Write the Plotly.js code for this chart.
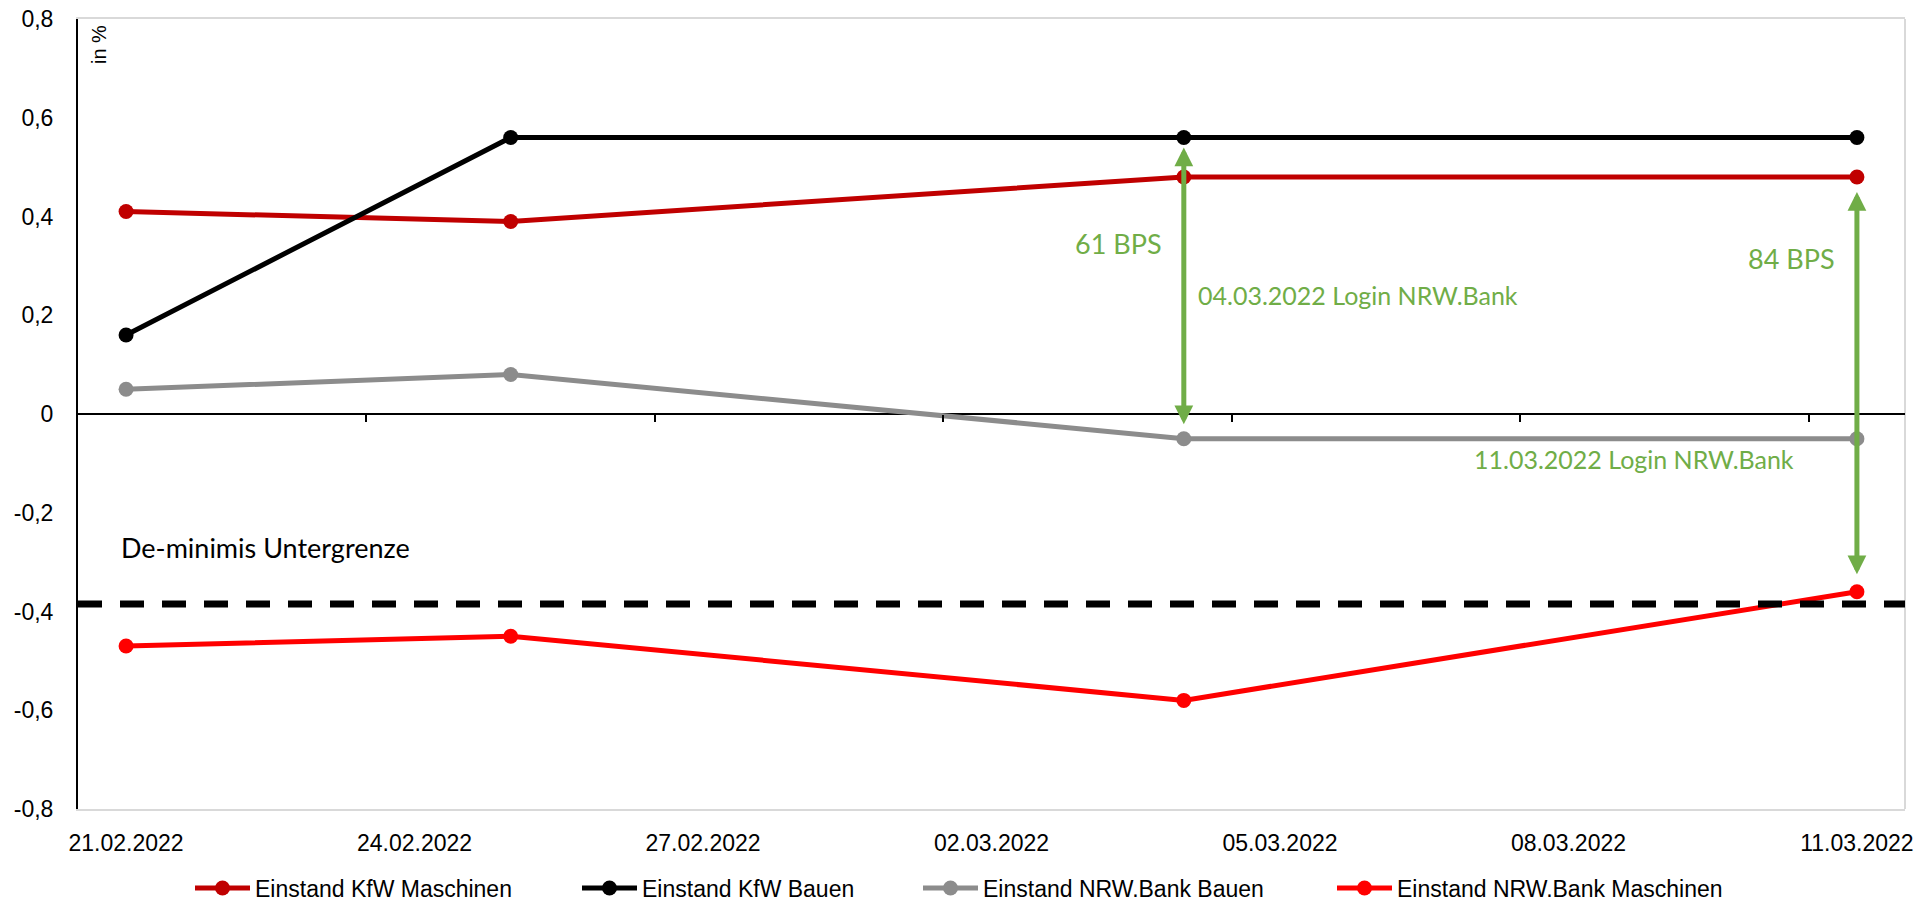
<!DOCTYPE html>
<html>
<head>
<meta charset="utf-8">
<script src="https://cdn.plot.ly/plotly-3.0.1.min.js"></script>
<style>
html,body{margin:0;padding:0;background:#fff;}
#chart{width:1924px;height:902px;}
</style>
</head>
<body>
<div id="chart"></div>
<script>
// ---- data ----
const dates = ['2022-02-21', '2022-02-25', '2022-03-04', '2022-03-11'];
const kfwMaschinen = [0.41, 0.39, 0.48, 0.48];
const kfwBauen = [0.16, 0.56, 0.56, 0.56];
const nrwBauen = [0.05, 0.08, -0.05, -0.05];
const nrwMaschinen = [-0.47, -0.45, -0.58, -0.36];
const deMinimis = -0.385;

const seriesNames = ['Einstand KfW Maschinen', 'Einstand KfW Bauen', 'Einstand NRW.Bank Bauen', 'Einstand NRW.Bank Maschinen'];

const xTickDates = ['2022-02-21', '2022-02-24', '2022-02-27', '2022-03-02', '2022-03-05', '2022-03-08', '2022-03-11'];
const xTickLabels = ['21.02.2022', '24.02.2022', '27.02.2022', '02.03.2022', '05.03.2022', '08.03.2022', '11.03.2022'];
const dayBoundaryTicks = ['2022-02-23 12:00', '2022-02-26 12:00', '2022-03-01 12:00', '2022-03-04 12:00', '2022-03-07 12:00', '2022-03-10 12:00'];
const xRange = ['2022-02-20 12:00', '2022-03-11 12:00'];

const yTickVals = [-0.8, -0.6, -0.4, -0.2, 0, 0.2, 0.4, 0.6, 0.8];
const yTickLabels = ['-0,8', '-0,6', '-0,4', '-0,2', '0', '0,2', '0,4', '0,6', '0,8'];

// ---- styling ----
const colors = ['#C00000', '#000000', '#8C8C8C', '#FF0000'];
const GREEN = '#70AD47';
const ARIAL = 'Liberation Sans, Arial, sans-serif';
const CAL = 'Lato, Carlito, Calibri, sans-serif';

const L = 78, R = 1905, T = 19, B = 809;
const W = R - L, H = B - T;
const px = v => (v - L) / W;
const py = v => (B - v) / H;

const values = [kfwMaschinen, kfwBauen, nrwBauen, nrwMaschinen];
const legendIds = ['legend', 'legend2', 'legend3', 'legend4'];

const traces = values.map((vals, i) => ({
  type: 'scatter',
  mode: 'lines+markers',
  x: dates,
  y: vals,
  name: seriesNames[i],
  legend: legendIds[i],
  line: {color: colors[i], width: 5},
  marker: {color: colors[i], size: 15, symbol: 'circle'},
  hoverinfo: 'x+y+name'
}));
// helper (empty) trace so the tick-only axis on the zero line is drawn
traces.push({type: 'scatter', x: [], y: [], xaxis: 'x2', showlegend: false, hoverinfo: 'skip'});

const legendStarts = [198, 585, 926, 1340];
const legendFont = {family: ARIAL, size: 23, color: '#000'};
const legends = {};
legendIds.forEach((id, i) => {
  legends[id] = {
    orientation: 'h',
    x: px(legendStarts[i] - 8),
    xanchor: 'left',
    y: py(888),
    yanchor: 'middle',
    font: legendFont,
    bgcolor: 'rgba(0,0,0,0)',
    borderwidth: 0,
    itemwidth: 55
  };
});

const annFont = {family: CAL, size: 25, color: GREEN};
const bpsFont = {family: CAL, size: 27, color: GREEN};
const annotations = [
  {xref: 'paper', yref: 'paper', x: px(119), y: py(547), xanchor: 'left', yanchor: 'middle',
   text: 'De-minimis Untergrenze', showarrow: false, font: {family: CAL, size: 27, color: '#000'}},
  {xref: 'paper', yref: 'paper', x: px(1164), y: py(244), xanchor: 'right', yanchor: 'middle',
   text: '61 BPS', showarrow: false, font: bpsFont},
  {xref: 'paper', yref: 'paper', x: px(1196), y: py(295), xanchor: 'left', yanchor: 'middle',
   text: '04.03.2022 Login NRW.Bank', showarrow: false, font: annFont},
  {xref: 'paper', yref: 'paper', x: px(1837), y: py(258), xanchor: 'right', yanchor: 'middle',
   text: '84 BPS', showarrow: false, font: bpsFont},
  {xref: 'paper', yref: 'paper', x: px(1472), y: py(459), xanchor: 'left', yanchor: 'middle',
   text: '11.03.2022 Login NRW.Bank', showarrow: false, font: annFont},
  {xref: 'paper', yref: 'paper', x: px(99), y: py(45), xanchor: 'center', yanchor: 'middle',
   text: 'in %', textangle: -90, showarrow: false, font: {family: ARIAL, size: 20, color: '#000'}},
  // double-headed arrows between series
  {xref: 'x', yref: 'y', axref: 'x', ayref: 'y',
   x: dates[2], y: kfwBauen[2], ax: dates[2], ay: nrwBauen[2], text: '',
   showarrow: true, arrowside: 'end+start', arrowhead: 2, startarrowhead: 2,
   arrowsize: 0.75, startarrowsize: 0.75, arrowwidth: 5, arrowcolor: GREEN,
   standoff: 10, startstandoff: 13},
  {xref: 'x', yref: 'y', axref: 'x', ayref: 'y',
   x: dates[3], y: kfwMaschinen[3], ax: dates[3], ay: nrwMaschinen[3], text: '',
   showarrow: true, arrowside: 'end+start', arrowhead: 2, startarrowhead: 2,
   arrowsize: 0.75, startarrowsize: 0.75, arrowwidth: 5, arrowcolor: GREEN,
   standoff: 15, startstandoff: 16}
];

const shapes = [
  // right border of plot area
  {type: 'line', xref: 'paper', yref: 'paper', x0: 1, x1: 1, y0: 0, y1: 1,
   line: {color: '#D9D9D9', width: 2}, layer: 'below'},
  // De-minimis lower limit
  {type: 'line', xref: 'paper', yref: 'y', x0: 0, x1: 1, y0: deMinimis, y1: deMinimis,
   line: {color: '#000', width: 7, dash: '24px,18px'}, layer: 'above'}
];

const layout = Object.assign({
  width: 1924,
  height: 902,
  margin: {l: L, r: 1924 - R, t: T, b: 902 - B, autoexpand: false},
  paper_bgcolor: '#fff',
  plot_bgcolor: '#fff',
  showlegend: true,
  xaxis: {
    type: 'date',
    range: xRange,
    tickvals: xTickDates,
    ticktext: xTickLabels,
    ticks: '',
    showgrid: false,
    zeroline: false,
    showline: true,
    mirror: true,
    linecolor: '#D9D9D9',
    linewidth: 2,
    tickfont: {family: ARIAL, size: 23, color: '#000'},
    ticklabelstandoff: 12,
    fixedrange: true
  },
  xaxis2: {
    type: 'date',
    overlaying: 'x',
    matches: 'x',
    anchor: 'free',
    position: 0.5,
    side: 'bottom',
    range: xRange,
    tickvals: dayBoundaryTicks,
    ticks: 'outside',
    ticklen: 7,
    tickwidth: 2,
    tickcolor: '#000',
    showticklabels: false,
    showgrid: false,
    zeroline: false,
    showline: false
  },
  yaxis: {
    range: [-0.8, 0.8],
    tickvals: yTickVals,
    ticktext: yTickLabels,
    ticks: '',
    showgrid: false,
    zeroline: true,
    zerolinecolor: '#000',
    zerolinewidth: 2,
    showline: true,
    linecolor: '#000',
    linewidth: 2,
    tickfont: {family: ARIAL, size: 23, color: '#000'},
    ticklabelstandoff: 18,
    fixedrange: true
  },
  annotations: annotations,
  shapes: shapes
}, legends);

Plotly.newPlot('chart', traces, layout, {displayModeBar: false, staticPlot: true});
</script>
</body>
</html>
